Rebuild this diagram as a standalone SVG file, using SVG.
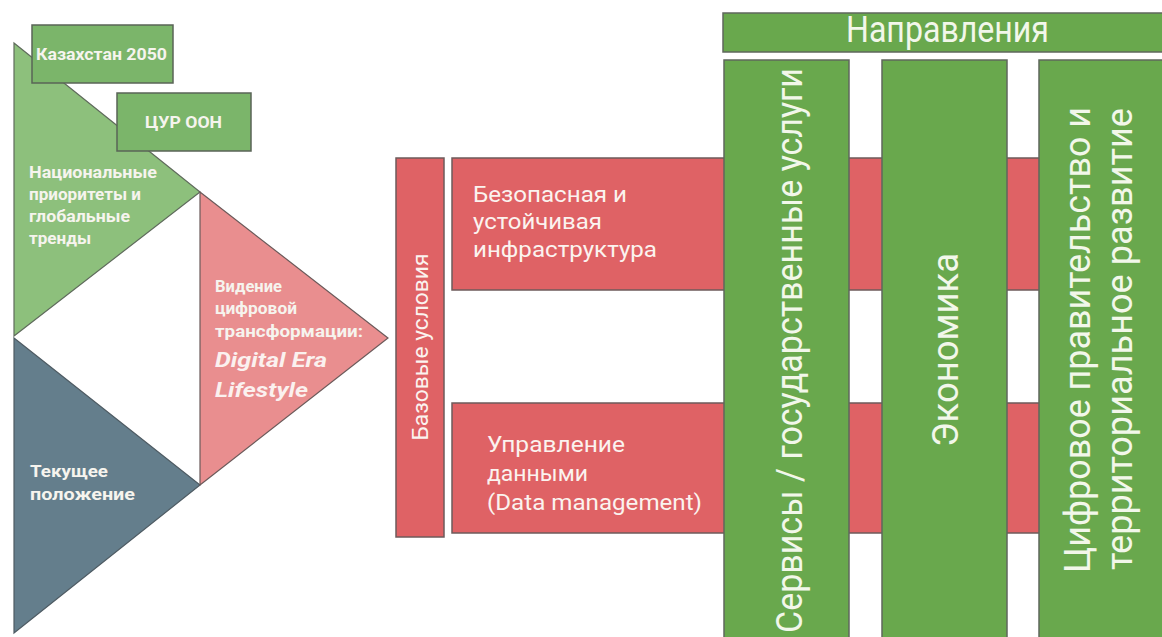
<svg xmlns="http://www.w3.org/2000/svg" width="1162" height="637" viewBox="0 0 1162 637">
  <style>
    .lt { fill: #8dc07c; stroke: #5f6b5c; stroke-width: 1.2; }
    .box { fill: #7bb56a; stroke: #5a6457; stroke-width: 1.5; }
    .pink { fill: #e98e8f; stroke: #6b5a5a; stroke-width: 1.2; }
    .slate { fill: #647e8c; stroke: #4e5b63; stroke-width: 1.2; }
    .red { fill: #df6265; stroke: #6e5b5b; stroke-width: 1.5; }
    .col { fill: #69a84d; stroke: #5f675c; stroke-width: 1.5; }
    .s { font-family: Roboto, "Liberation Sans", sans-serif; font-weight: bold; font-size: 16.5px; fill: #f6f4ee; }
    .m { font-family: Roboto, "Liberation Sans", sans-serif; font-size: 22px; fill: #fbf3ef; }
    .b { font-family: Roboto, "Liberation Sans", sans-serif; font-size: 37px; fill: #f2f7ea; }
    .it { font-family: Roboto, "Liberation Sans", sans-serif; font-weight: bold; font-style: italic; font-size: 21px; fill: #fbf1ef; }
  </style>

  <rect width="1162" height="637" fill="#ffffff"/>

  <g id="national">
    <polygon class="lt" points="14,43 200,192 14,336"/>
    <text class="s" x="29" y="178" textLength="128" lengthAdjust="spacingAndGlyphs">Национальные</text>
    <text class="s" x="29" y="200" textLength="112" lengthAdjust="spacingAndGlyphs">приоритеты и</text>
    <text class="s" x="29" y="222" textLength="101" lengthAdjust="spacingAndGlyphs">глобальные</text>
    <text class="s" x="29" y="244" textLength="62" lengthAdjust="spacingAndGlyphs">тренды</text>
  </g>

  <g id="kazakhstan2050">
    <rect class="box" x="32" y="25" width="141" height="58"/>
    <text class="s" x="36" y="60" textLength="131" lengthAdjust="spacingAndGlyphs">Казахстан 2050</text>
  </g>

  <g id="sdg">
    <rect class="box" x="117" y="93" width="134" height="58"/>
    <text class="s" x="145" y="128" textLength="77" lengthAdjust="spacingAndGlyphs">ЦУР ООН</text>
  </g>

  <g id="current">
    <polygon class="slate" points="14,338 200,485 14,633"/>
    <text class="s" x="30" y="477" textLength="78" lengthAdjust="spacingAndGlyphs">Текущее</text>
    <text class="s" x="30" y="500" textLength="105" lengthAdjust="spacingAndGlyphs">положение</text>
  </g>

  <g id="vision">
    <polygon class="pink" points="200,192 388,338 200,485"/>
    <text class="s" x="215" y="292" textLength="67" lengthAdjust="spacingAndGlyphs" font-size="15">Видение</text>
    <text class="s" x="215" y="314" textLength="82" lengthAdjust="spacingAndGlyphs" font-size="15">цифровой</text>
    <text class="s" x="215" y="337" textLength="148" lengthAdjust="spacingAndGlyphs" font-size="15">трансформации:</text>
    <text class="it" x="215" y="367" textLength="112" lengthAdjust="spacingAndGlyphs">Digital Era</text>
    <text class="it" x="215" y="397" textLength="93" lengthAdjust="spacingAndGlyphs">Lifestyle</text>
  </g>

  <g id="base">
    <rect class="red" x="396" y="158" width="48" height="379"/>
    <text class="m" transform="translate(428,347) rotate(-90)" text-anchor="middle" textLength="187" lengthAdjust="spacingAndGlyphs">Базовые условия</text>
  </g>

  <g id="infra">
    <rect class="red" x="452" y="158" width="712" height="132"/>
    <text class="m" x="473" y="202" textLength="154" lengthAdjust="spacingAndGlyphs">Безопасная и</text>
    <text class="m" x="473" y="229" textLength="129" lengthAdjust="spacingAndGlyphs">устойчивая</text>
    <text class="m" x="473" y="257" textLength="184" lengthAdjust="spacingAndGlyphs">инфраструктура</text>
  </g>

  <g id="data">
    <rect class="red" x="452" y="403" width="712" height="130"/>
    <text class="m" x="487" y="452" textLength="138" lengthAdjust="spacingAndGlyphs">Управление</text>
    <text class="m" x="487" y="481" textLength="101" lengthAdjust="spacingAndGlyphs">данными</text>
    <text class="m" x="487" y="510" textLength="215" lengthAdjust="spacingAndGlyphs">(Data management)</text>
  </g>

  <g id="directions">
    <rect class="col" x="723" y="13" width="445" height="39"/>
    <text class="b" x="846" y="42" font-size="29" textLength="203" lengthAdjust="spacingAndGlyphs">Направления</text>
  </g>

  <g id="services">
    <rect class="col" x="724" y="60" width="125" height="582"/>
    <text class="b" transform="translate(802,350.5) rotate(-90)" text-anchor="middle" textLength="565" lengthAdjust="spacingAndGlyphs">Сервисы / государственные услуги</text>
  </g>

  <g id="economy">
    <rect class="col" x="882" y="60" width="125" height="582"/>
    <text class="b" transform="translate(958,350) rotate(-90)" text-anchor="middle" textLength="194" lengthAdjust="spacingAndGlyphs">Экономика</text>
  </g>

  <g id="digitalgov">
    <rect class="col" x="1039" y="60" width="128" height="582"/>
    <text class="b" transform="translate(1090,340) rotate(-90)" text-anchor="middle" textLength="466" lengthAdjust="spacingAndGlyphs">Цифровое правительство и</text>
    <text class="b" transform="translate(1132,339) rotate(-90)" text-anchor="middle" textLength="462" lengthAdjust="spacingAndGlyphs">территориальное развитие</text>
  </g>

  <g id="connectors"/>
</svg>
